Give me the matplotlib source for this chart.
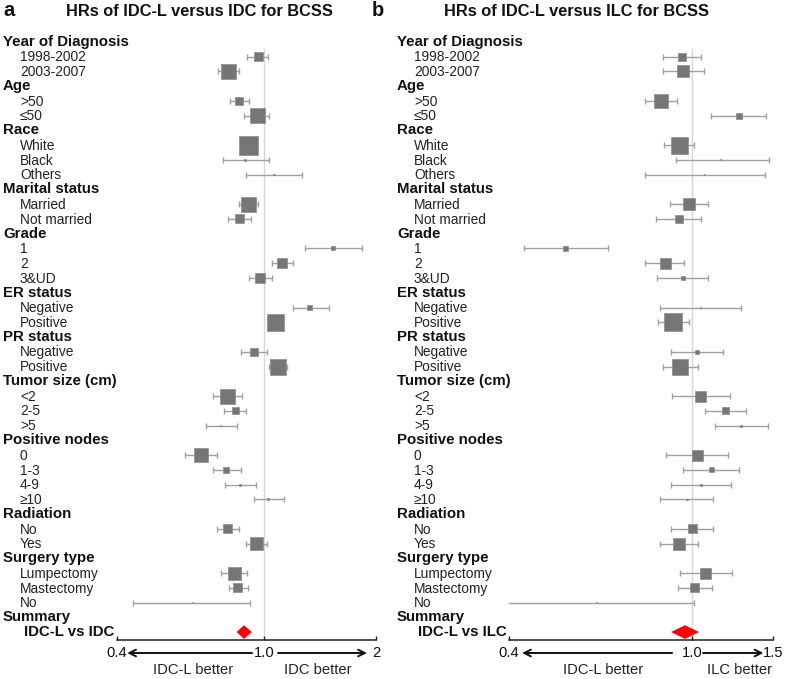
import numpy as np
import matplotlib
matplotlib.use("Agg")
import matplotlib.pyplot as plt
from matplotlib.transforms import blended_transform_factory

plt.rcParams['font.family'] = ['Liberation Sans', 'DejaVu Sans']

# ---------------- data ----------------
groups = ["Year of Diagnosis", "Age", "Race", "Marital status", "Grade", "ER status",
          "PR status", "Tumor size (cm)", "Positive nodes", "Radiation", "Surgery type"]
subgroups = [["1998-2002", "2003-2007"], [">50", "≤50"], ["White", "Black", "Others"],
             ["Married", "Not married"], ["1", "2", "3&UD"], ["Negative", "Positive"],
             ["Negative", "Positive"], ["<2", "2-5", ">5"], ["0", "1-3", "4-9", "≥10"],
             ["No", "Yes"], ["Lumpectomy", "Mastectomy", "No"]]

# Panel a: IDC-L versus IDC
hr_a = [0.961, 0.802, 0.854, 0.955, 0.903, 0.886, 1.061, 0.903, 0.859, 1.531, 1.115, 0.973,
        1.327, 1.068, 0.937, 1.088, 0.797, 0.833, 0.763, 0.674, 0.787, 0.859, 1.022, 0.793,
        0.949, 0.828, 0.848, 0.640]
lo_a = [0.897, 0.749, 0.807, 0.881, 0.880, 0.773, 0.892, 0.854, 0.797, 1.287, 1.048, 0.908,
        1.194, 1.045, 0.864, 1.029, 0.726, 0.778, 0.695, 0.610, 0.726, 0.783, 0.937, 0.745,
        0.892, 0.763, 0.802, 0.442]
hi_a = [1.022, 0.854, 0.908, 1.029, 0.930, 1.029, 1.263, 0.961, 0.920, 1.834, 1.194, 1.048,
        1.494, 1.095, 1.016, 1.150, 0.870, 0.892, 0.843, 0.745, 0.864, 0.949, 1.129, 0.854,
        1.016, 0.897, 0.903, 0.914]
weight_a = [9, 15, 8, 15, 19, 2, 1.5, 15, 9, 4, 10, 10, 5, 17, 8, 16, 15, 7, 1, 14, 6, 2, 2,
            9, 13, 13, 9, 0.5]
summary_a = (0.881, 0.841, 0.925)

# Panel b: IDC-L versus ILC
hr_b = [0.951, 0.956, 0.856, 1.265, 0.937, 1.156, 1.067, 0.985, 0.937, 0.530, 0.874, 0.956,
        1.041, 0.909, 1.025, 0.942, 1.046, 1.185, 1.278, 1.030, 1.100, 1.046, 0.975, 1.000,
        0.937, 1.072, 1.010, 0.620]
lo_b = [0.865, 0.865, 0.791, 1.100, 0.869, 0.923, 0.791, 0.896, 0.835, 0.432, 0.791, 0.839,
        0.852, 0.844, 0.900, 0.865, 0.905, 1.067, 1.122, 0.878, 0.956, 0.900, 0.852, 0.900,
        0.852, 0.942, 0.932, 0.385]
hi_b = [1.046, 1.062, 0.928, 1.448, 1.010, 1.470, 1.440, 1.083, 1.046, 0.657, 0.961, 1.083,
        1.278, 0.985, 1.168, 1.030, 1.209, 1.310, 1.462, 1.197, 1.265, 1.215, 1.111, 1.111,
        1.030, 1.221, 1.105, 1.010]
weight_b = [8, 12, 14, 6, 17, 1, 1, 12, 8, 5, 11, 4, 1, 18, 4, 16, 11, 7, 2, 11, 5, 2, 1.5,
            9, 12, 11, 9, 0.5]
summary_b = (0.966, 0.900, 1.036)

titles = ["HRs of IDC-L versus IDC for BCSS", "HRs of IDC-L versus ILC for BCSS"]
summary_labels = ["IDC-L vs IDC", "IDC-L vs ILC"]
xticks_a = [0.4, 1.0, 2]
xticklabels_a = ["0.4", "1.0", "2"]
xticks_b = [0.4, 1.0, 1.5]
xticklabels_b = ["0.4", "1.0", "1.5"]
better_a = ["IDC-L better", "IDC better"]
better_b = ["IDC-L better", "ILC better"]

# ---------------- figure ----------------
W, H = 787, 679
fig = plt.figure(figsize=(W / 100, H / 100), dpi=100)

# row layout
header_rows, item_rows = [], []
r = 0
for g, subs in zip(groups, subgroups):
    header_rows.append(r)
    r += 1
    for s in subs:
        item_rows.append(r)
        r += 1
summary_header_row = r
summary_row = r + 1

ax_bottom_px, ax_top_px = 640, 34.6
ymax = summary_row + 0.54


def panel(ax_left_px, ax_w_px, hr, lo, hi, wts, summ, xlim, ticks, ticklabels,
          title, title_cx, letter, letter_x, hdr_x, item_x, summ_label, better,
          arrows):
    ax = fig.add_axes([ax_left_px / W, 1 - ax_bottom_px / H, ax_w_px / W,
                       (ax_bottom_px - ax_top_px) / H])
    ax.set_xscale('log')
    ax.set_xlim(*xlim)
    ax.set_ylim(ymax, -0.5)
    for s in ['left', 'top', 'right']:
        ax.spines[s].set_visible(False)
    ax.spines['bottom'].set_color('#222222')
    ax.spines['bottom'].set_linewidth(1.1)
    ax.set_yticks([])
    ax.set_xticks(ticks)
    ax.set_xticklabels(ticklabels)
    ax.xaxis.set_minor_locator(matplotlib.ticker.NullLocator())
    ax.tick_params(axis='x', direction='in', length=3, width=1, color='#222222',
                   labelsize=10.6, pad=4.5, labelcolor='#111111')

    # reference line
    ax.plot([1, 1], [0.5, ymax], color='#d6d6d6', lw=1, zorder=0)

    hr = np.array(hr); lo = np.array(lo); hi = np.array(hi)
    rows = np.array(item_rows)
    ax.errorbar(hr, rows, xerr=[hr - lo, hi - hr], fmt='none', ecolor='#a0a0a0',
                elinewidth=1, capsize=2, capthick=1, zorder=2)
    sizes = (np.array(wts) * 0.72) ** 2
    ax.scatter(hr, rows, s=sizes, marker='s', color='#767676', edgecolor='#8c8c8c',
               linewidth=0.5, zorder=3)

    # summary diamond
    est, slo, shi = summ
    ax.fill([slo, est, shi, est], [summary_row, summary_row - 0.46, summary_row,
                                   summary_row + 0.46], color='#ff0000', lw=0, zorder=4)

    tr = blended_transform_factory(fig.transFigure, ax.transData)
    for g, rr in zip(groups, header_rows):
        ax.text(hdr_x / W, rr, g, transform=tr, fontsize=10.8, fontweight='bold',
                va='center', ha='left', color='#111111')
    labels = [s for subs in subgroups for s in subs]
    for s, rr in zip(labels, item_rows):
        ax.text(item_x / W, rr + 0.05, s, transform=tr, fontsize=9.9, va='center',
                ha='left', color='#222222')
    ax.text(hdr_x / W, summary_header_row, "Summary", transform=tr, fontsize=10.8,
            fontweight='bold', va='center', ha='left', color='#111111')
    ax.text((item_x + 4) / W, summary_row, summ_label, transform=tr, fontsize=10.8,
            fontweight='bold', va='center', ha='left', color='#111111')

    fig.text(title_cx / W, 1 - 12 / H, title, fontsize=11.8, fontweight='bold',
             ha='center', va='center', color='#111111')
    fig.text(letter_x / W, 1 - 11 / H, letter, fontsize=14.5, fontweight='bold',
             ha='left', va='center', color='#111111')

    # arrows and better labels
    y_arrow = 1 - 653 / H
    (l_head, l_tail, r_tail, r_head) = arrows
    ap = dict(arrowstyle='->', color='#111111', lw=1.4, mutation_scale=12,
              shrinkA=0, shrinkB=0)
    ax.annotate('', xy=(l_head, y_arrow), xytext=(l_tail, y_arrow),
                xycoords=('data', 'figure fraction'),
                textcoords=('data', 'figure fraction'), arrowprops=ap,
                annotation_clip=False)
    ax.annotate('', xy=(r_head, y_arrow), xytext=(r_tail, y_arrow),
                xycoords=('data', 'figure fraction'),
                textcoords=('data', 'figure fraction'), arrowprops=ap,
                annotation_clip=False)
    y_b = 1 - 670 / H
    tb = blended_transform_factory(ax.transAxes, fig.transFigure)
    ax.text(better[2], y_b, better[0], transform=tb, fontsize=10.6, ha='center',
            va='center', color='#222222')
    ax.text(better[3], y_b, better[1], transform=tb, fontsize=10.6, ha='center',
            va='center', color='#222222')
    return ax


panel(117, 259, hr_a, lo_a, hi_a, weight_a, summary_a, (0.4, 2), xticks_a, xticklabels_a,
      titles[0], 199, 'a', 3, 3, 20, summary_labels[0],
      (better_a[0], better_a[1], 0.293, 0.776), (0.426, 0.926, 1.088, 1.891))
panel(509, 264, hr_b, lo_b, hi_b, weight_b, summary_b, (0.4, 1.5), xticks_b, xticklabels_b,
      titles[1], 576, 'b', 372, 397, 414, summary_labels[1],
      (better_b[0], better_b[1], 0.356, 0.875), (0.427, 0.905, 1.057, 1.43))

fig.savefig("out.png", dpi=100)
